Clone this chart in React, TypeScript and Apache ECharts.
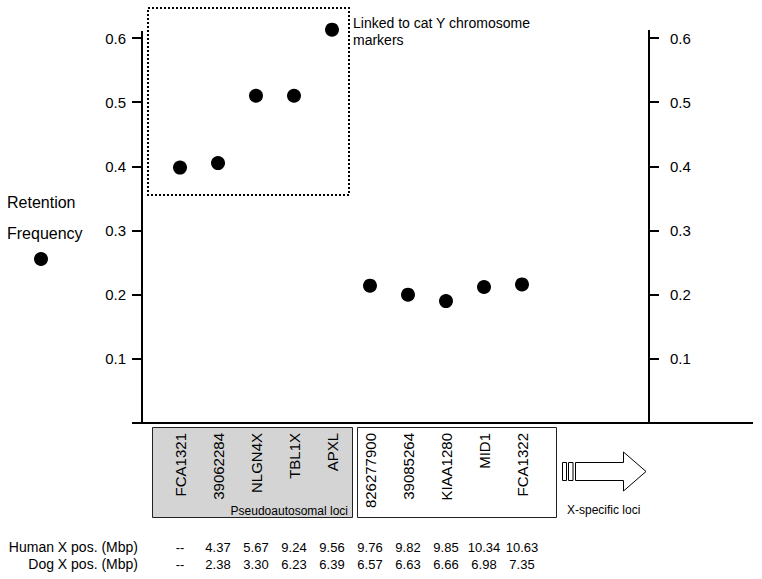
import React, { useEffect, useRef } from "react";
import * as echarts from "echarts";

const markers = ["FCA1321", "39062284", "NLGN4X", "TBL1X", "APXL", "826277900", "39085264", "KIAA1280", "MID1", "FCA1322"];
const retention = [0.398, 0.405, 0.51, 0.51, 0.613, 0.214, 0.2, 0.19, 0.212, 0.216];
const humanPos = ["--", "4.37", "5.67", "9.24", "9.56", "9.76", "9.82", "9.85", "10.34", "10.63"];
const dogPos = ["--", "2.38", "3.30", "6.23", "6.39", "6.57", "6.63", "6.66", "6.98", "7.35"];
const yMin = 0;
const yMax = 0.6;
const yStep = 0.1;
const rowLabels = ["Human X pos. (Mbp)", "Dog X pos. (Mbp)"];
const seriesName = "Retention Frequency";

const FONT = "'Liberation Sans', Arial, Helvetica, sans-serif";

export default function App() {
  const ref = useRef<HTMLDivElement>(null);
  useEffect(() => {
    const chart = echarts.init(ref.current!, undefined, { renderer: "svg" });
    const categories = ["", ...markers, " ", "  "];
    const yAxisCommon = {
      type: "value",
      min: yMin,
      max: yMax,
      interval: yStep,
      splitLine: { show: false },
      axisLine: { show: true, lineStyle: { color: "#000", width: 2 } },
      axisTick: { show: true, length: 10, lineStyle: { color: "#000", width: 2 } },
    };
    chart.setOption({
      animation: false,
      textStyle: { fontFamily: FONT },
      grid: { left: 142, right: 164, top: 38, bottom: 156, containLabel: false },
      legend: {
        show: true,
        left: 29,
        top: 247,
        itemWidth: 14,
        itemHeight: 14,
        icon: "circle",
        selectedMode: false,
        formatter: () => "",
        itemStyle: { color: "#000", opacity: 1 },
        data: [seriesName],
      },
      xAxis: {
        type: "category",
        data: categories,
        boundaryGap: false,
        axisLine: { show: true, lineStyle: { color: "#000", width: 2 } },
        axisTick: { show: false },
        splitLine: { show: false },
        axisLabel: {
          interval: 0,
          rotate: 90,
          margin: 10,
          color: "#000",
          fontSize: 15,
          fontFamily: FONT,
        },
      },
      yAxis: [
        {
          ...yAxisCommon,
          position: "left",
          axisLabel: {
            margin: 16,
            color: "#000",
            fontSize: 15,
            fontFamily: FONT,
            formatter: (v: number) => (v === 0 ? "" : v.toFixed(1)),
          },
        },
        {
          ...yAxisCommon,
          position: "right",
          offset: 51,
          axisLabel: {
            margin: 21,
            color: "#000",
            fontSize: 15,
            fontFamily: FONT,
            formatter: (v: number) => (v === 0 ? "" : v.toFixed(1)),
          },
        },
      ],
      series: [
        {
          name: seriesName,
          type: "scatter",
          clip: false,
          symbol: "circle",
          symbolSize: 14,
          itemStyle: { color: "#000", opacity: 1 },
          data: markers.map((m, i) => [m, retention[i]]),
        },
      ],
    });

    const px = (name: string) => chart.convertToPixel({ xAxisIndex: 0 }, name) as number;
    const py = (v: number) => chart.convertToPixel({ yAxisIndex: 0 }, v) as number;
    const leftX = px(categories[0]);
    const rightX = px(categories[categories.length - 1]) + 51;
    const baseY = py(yMin);
    const topY = py(yMax);

    const black = "#000";
    const graphics: any[] = [];
    graphics.push({ type: "line", z: 5, shape: { x1: 132, y1: baseY, x2: 753, y2: baseY }, style: { stroke: black, lineWidth: 2 } });
    graphics.push({ type: "line", z: 5, shape: { x1: leftX, y1: topY - 7, x2: leftX, y2: topY }, style: { stroke: black, lineWidth: 2 } });
    graphics.push({ type: "line", z: 5, shape: { x1: rightX, y1: topY - 8, x2: rightX, y2: topY }, style: { stroke: black, lineWidth: 2 } });
    graphics.push({
      type: "rect",
      z: 5,
      shape: { x: 148, y: 8, width: 201, height: 187 },
      style: { fill: "none", stroke: black, lineWidth: 2, lineDash: [2, 2] },
    });
    graphics.push({
      type: "text",
      z: 5,
      x: 353,
      y: 14,
      style: {
        text: "Linked to cat Y chromosome\nmarkers",
        fontSize: 14,
        fontFamily: FONT,
        fill: black,
        lineHeight: 17,
        align: "left",
        verticalAlign: "top",
      },
    });
    graphics.push({ type: "text", z: 5, x: 7, y: 202, style: { text: "Retention", fontSize: 16, fontFamily: FONT, fill: black, align: "left", verticalAlign: "middle" } });
    graphics.push({ type: "text", z: 5, x: 7, y: 233, style: { text: "Frequency", fontSize: 16, fontFamily: FONT, fill: black, align: "left", verticalAlign: "middle" } });
    graphics.push({ type: "rect", z: -10, shape: { x: 152.5, y: 427.5, width: 200, height: 90 }, style: { fill: "#d4d4d4", stroke: "#222", lineWidth: 1 } });
    graphics.push({ type: "rect", z: -10, shape: { x: 357.5, y: 427.5, width: 199, height: 90 }, style: { fill: "#fff", stroke: "#222", lineWidth: 1 } });
    graphics.push({ type: "text", z: 5, x: 348, y: 511, style: { text: "Pseudoautosomal loci", fontSize: 12, fontFamily: FONT, fill: black, align: "right", verticalAlign: "middle" } });
    graphics.push({ type: "text", z: 5, x: 567, y: 510, style: { text: "X-specific loci", fontSize: 12, fontFamily: FONT, fill: black, align: "left", verticalAlign: "middle" } });
    graphics.push({ type: "rect", z: 5, shape: { x: 562.5, y: 462.5, width: 4, height: 18 }, style: { fill: "#fff", stroke: black, lineWidth: 1 } });
    graphics.push({ type: "rect", z: 5, shape: { x: 568.5, y: 462.5, width: 4.5, height: 18 }, style: { fill: "#fff", stroke: black, lineWidth: 1 } });
    graphics.push({
      type: "polygon",
      z: 5,
      shape: { points: [[575.5, 462.5], [623.5, 462.5], [623.5, 452], [646, 471.5], [623.5, 491], [623.5, 480.5], [575.5, 480.5]] },
      style: { fill: "#fff", stroke: black, lineWidth: 1 },
    });
    const rowYs = [547, 564];
    [humanPos, dogPos].forEach((row, r) => {
      graphics.push({ type: "text", z: 5, x: 138, y: rowYs[r], style: { text: rowLabels[r], fontSize: 14, fontFamily: FONT, fill: black, align: "right", verticalAlign: "middle" } });
      row.forEach((t, i) => {
        graphics.push({ type: "text", z: 5, x: px(markers[i]), y: rowYs[r], style: { text: t, fontSize: 13, fontFamily: FONT, fill: black, align: "center", verticalAlign: "middle" } });
      });
    });
    chart.setOption({ graphic: graphics });
    return () => chart.dispose();
  }, []);
  return <div ref={ref} style={{ position: "absolute", left: 0, top: 0, width: 762, height: 579 }} />;
}
